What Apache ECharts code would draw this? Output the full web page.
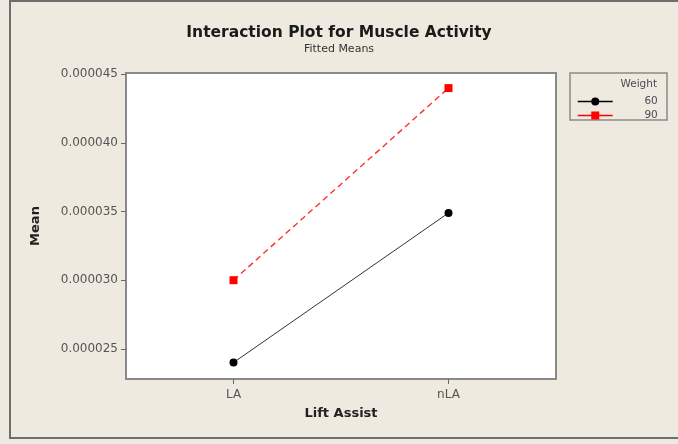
<!DOCTYPE html>
<html>
<head>
<meta charset="utf-8">
<script src="https://cdn.jsdelivr.net/npm/echarts@6/dist/echarts.min.js"></script>
<style>
  html, body { margin: 0; padding: 0; background: #EEEADF; }
  #chart { width: 678px; height: 444px; }
</style>
</head>
<body>
<div id="chart"></div>
<script>
// Lift assist conditions on the x axis
const categories = ['LA', 'nLA'];
// Fitted mean muscle activity for each weight level
const weight60 = [0.0000240, 0.0000349];
const weight90 = [0.0000300, 0.0000440];
// Mean axis tick values
const yTicks = [0.000025, 0.000030, 0.000035, 0.000040, 0.000045];

const FONT = 'DejaVu Sans';
const chart = echarts.init(document.getElementById('chart'), null, { renderer: 'canvas' });

chart.setOption({
  backgroundColor: '#EEEADF',
  animation: false,
  title: {
    text: 'Interaction Plot for Muscle Activity',
    subtext: 'Fitted Means',
    left: 'center',
    top: 20,
    itemGap: 3,
    textStyle: { fontFamily: FONT, fontWeight: 'bold', fontSize: 15.5, color: '#1a1a1a' },
    subtextStyle: { fontFamily: FONT, fontSize: 11, color: '#333' }
  },
  grid: {
    left: 126, top: 73, right: 122, bottom: 65,
    show: true, backgroundColor: '#ffffff',
    borderColor: '#8a8a8a', borderWidth: 2
  },
  legend: {
    orient: 'vertical',
    left: 572, top: 91,
    itemWidth: 35, itemHeight: 10, itemGap: 3,
    data: [
      { name: '60', lineStyle: { color: '#000000', type: 'solid', width: 1.5 } },
      { name: '90', lineStyle: { color: '#ff0000', type: 'solid', width: 1.5 } }
    ],
    formatter: '{v|{name}}',
    textStyle: {
      fontFamily: FONT, fontSize: 10.5, color: '#4a4a5a',
      rich: { v: { width: 40, align: 'right', fontFamily: FONT, fontSize: 10.5, color: '#4a4a5a' } }
    }
  },
  xAxis: {
    type: 'category',
    data: categories,
    boundaryGap: true,
    name: 'Lift Assist',
    nameLocation: 'middle',
    nameGap: 28,
    nameTextStyle: { fontFamily: FONT, fontWeight: 'bold', fontSize: 13, color: '#222' },
    axisLine: { show: false },
    axisTick: { show: true, alignWithLabel: true, length: 5, lineStyle: { color: '#666' } },
    axisLabel: { fontFamily: FONT, fontSize: 12, color: '#555', margin: 10 },
    splitLine: { show: false }
  },
  yAxis: {
    type: 'value',
    min: 0.0000228,
    max: 0.0000451,
    name: 'Mean',
    nameLocation: 'middle',
    nameRotate: 90,
    nameGap: 84,
    nameTextStyle: { fontFamily: FONT, fontWeight: 'bold', fontSize: 13, color: '#222' },
    axisLine: { show: false },
    axisTick: { show: true, length: 5, lineStyle: { color: '#666' }, customValues: yTicks },
    axisLabel: {
      fontFamily: FONT, fontSize: 12, color: '#555', margin: 8,
      customValues: yTicks,
      formatter: v => v.toFixed(6)
    },
    splitLine: { show: false }
  },
  graphic: [
    {
      type: 'rect',
      shape: { x: 10, y: 1, width: 720, height: 437 },
      style: { fill: 'none', stroke: '#6e6e6e', lineWidth: 2 },
      silent: true
    },
    {
      type: 'rect',
      shape: { x: 570, y: 73, width: 97, height: 47 },
      style: { fill: 'none', stroke: '#8a8a8a', lineWidth: 1.5 },
      silent: true
    },
    {
      type: 'text',
      x: 657, y: 84,
      style: {
        text: 'Weight', align: 'right', verticalAlign: 'middle',
        font: '10.5px "DejaVu Sans"', fill: '#4a4a5a'
      },
      silent: true
    }
  ],
  series: [
    {
      name: '60',
      type: 'line',
      data: weight60,
      symbol: 'circle',
      symbolSize: 8,
      itemStyle: { color: '#000000' },
      lineStyle: { color: '#333333', width: 1 }
    },
    {
      name: '90',
      type: 'line',
      data: weight90,
      symbol: 'rect',
      symbolSize: 8,
      itemStyle: { color: '#ff0000' },
      lineStyle: { color: '#ff3030', width: 1.4, type: [6, 4] }
    }
  ]
});
</script>
</body>
</html>
